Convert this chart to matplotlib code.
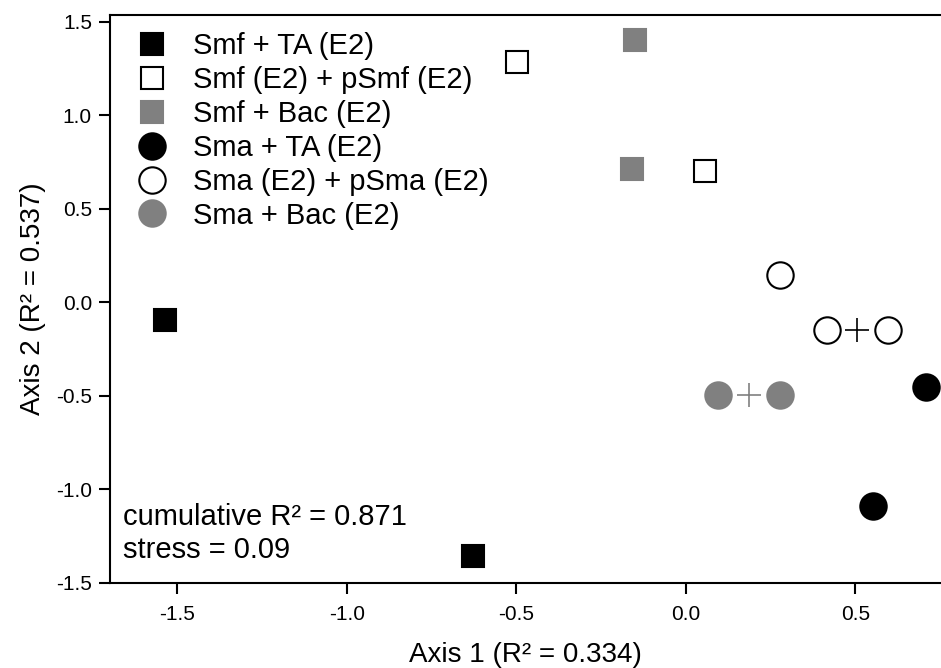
import matplotlib
matplotlib.use("Agg")
import matplotlib.pyplot as plt

plt.rcParams['font.family'] = ['Liberation Sans', 'DejaVu Sans']

labels = ["Smf + TA (E2)", "Smf (E2) + pSmf (E2)", "Smf + Bac (E2)",
          "Sma + TA (E2)", "Sma (E2) + pSma (E2)", "Sma + Bac (E2)"]
smf_ta_x = [-1.535, -0.626]
smf_ta_y = [-0.096, -1.358]
smf_p_x = [-0.499, 0.056]
smf_p_y = [1.283, 0.700]
smf_bac_x = [-0.151, -0.159]
smf_bac_y = [1.400, 0.711]
sma_ta_x = [0.709, 0.552]
sma_ta_y = [-0.455, -1.091]
sma_p_x = [0.278, 0.416, 0.596]
sma_p_y = [0.144, -0.150, -0.150]
sma_bac_x = [0.094, 0.278]
sma_bac_y = [-0.497, -0.497]
plus_black_x = [0.505]
plus_black_y = [-0.150]
plus_gray_x = [0.186]
plus_gray_y = [-0.497]

xticks = [-1.5, -1.0, -0.5, 0.0, 0.5]
yticks = [-1.5, -1.0, -0.5, 0.0, 0.5, 1.0, 1.5]

gray = '#808080'
fig = plt.figure(figsize=(9.41, 6.68), dpi=100)
ax = fig.add_axes([110/941, 1-583/668, 1-110/941, (583-15)/668])

sq = 16.5
ci = 19
ax.plot(smf_ta_x, smf_ta_y, 's', ms=sq, mfc='black', mec='black', mew=1.5, ls='none', label=labels[0])
ax.plot(smf_p_x, smf_p_y, 's', ms=sq, mfc='white', mec='black', mew=1.5, ls='none', label=labels[1])
ax.plot(smf_bac_x, smf_bac_y, 's', ms=sq, mfc=gray, mec=gray, mew=1.5, ls='none', label=labels[2])
ax.plot(sma_ta_x, sma_ta_y, 'o', ms=ci, mfc='black', mec='black', mew=1.5, ls='none', label=labels[3])
ax.plot(sma_p_x, sma_p_y, 'o', ms=ci, mfc='white', mec='black', mew=1.5, ls='none', label=labels[4])
ax.plot(sma_bac_x, sma_bac_y, 'o', ms=ci, mfc=gray, mec=gray, mew=1.5, ls='none', label=labels[5])
ax.plot(plus_black_x, plus_black_y, '+', ms=17, mec='black', mew=1.2, ls='none')
ax.plot(plus_gray_x, plus_gray_y, '+', ms=17, mec=gray, mew=1.2, ls='none')

ax.set_xlim(-1.698, 0.753)
ax.set_ylim(-1.5, 1.535)
ax.set_xticks(xticks)
ax.set_xticklabels([f"{t:.1f}" for t in xticks])
ax.set_yticks(yticks)
ax.set_yticklabels([f"{t:.1f}" for t in yticks])
ax.tick_params(direction='out', length=8, width=1.5, labelsize=15, pad=5)
ax.tick_params(axis='x', pad=8)
for s in ['left', 'bottom', 'top']:
    ax.spines[s].set_linewidth(1.5)
ax.spines['right'].set_visible(False)

ax.set_xlabel("Axis 1 (R² = 0.334)", fontsize=20, labelpad=13)
ax.set_ylabel("Axis 2 (R² = 0.537)", fontsize=20, labelpad=7)

leg = ax.legend(loc='upper left', frameon=False, fontsize=21, handletextpad=0.75,
                labelspacing=0.2, borderaxespad=0.2, handlelength=1.3,
                bbox_to_anchor=(0.0072, 1.0))

ax.text(0.016, 0.117, "cumulative R² = 0.871", transform=ax.transAxes, fontsize=21, va='center')
ax.text(0.016, 0.058, "stress = 0.09", transform=ax.transAxes, fontsize=21, va='center')

fig.savefig("out.png", dpi=100)
